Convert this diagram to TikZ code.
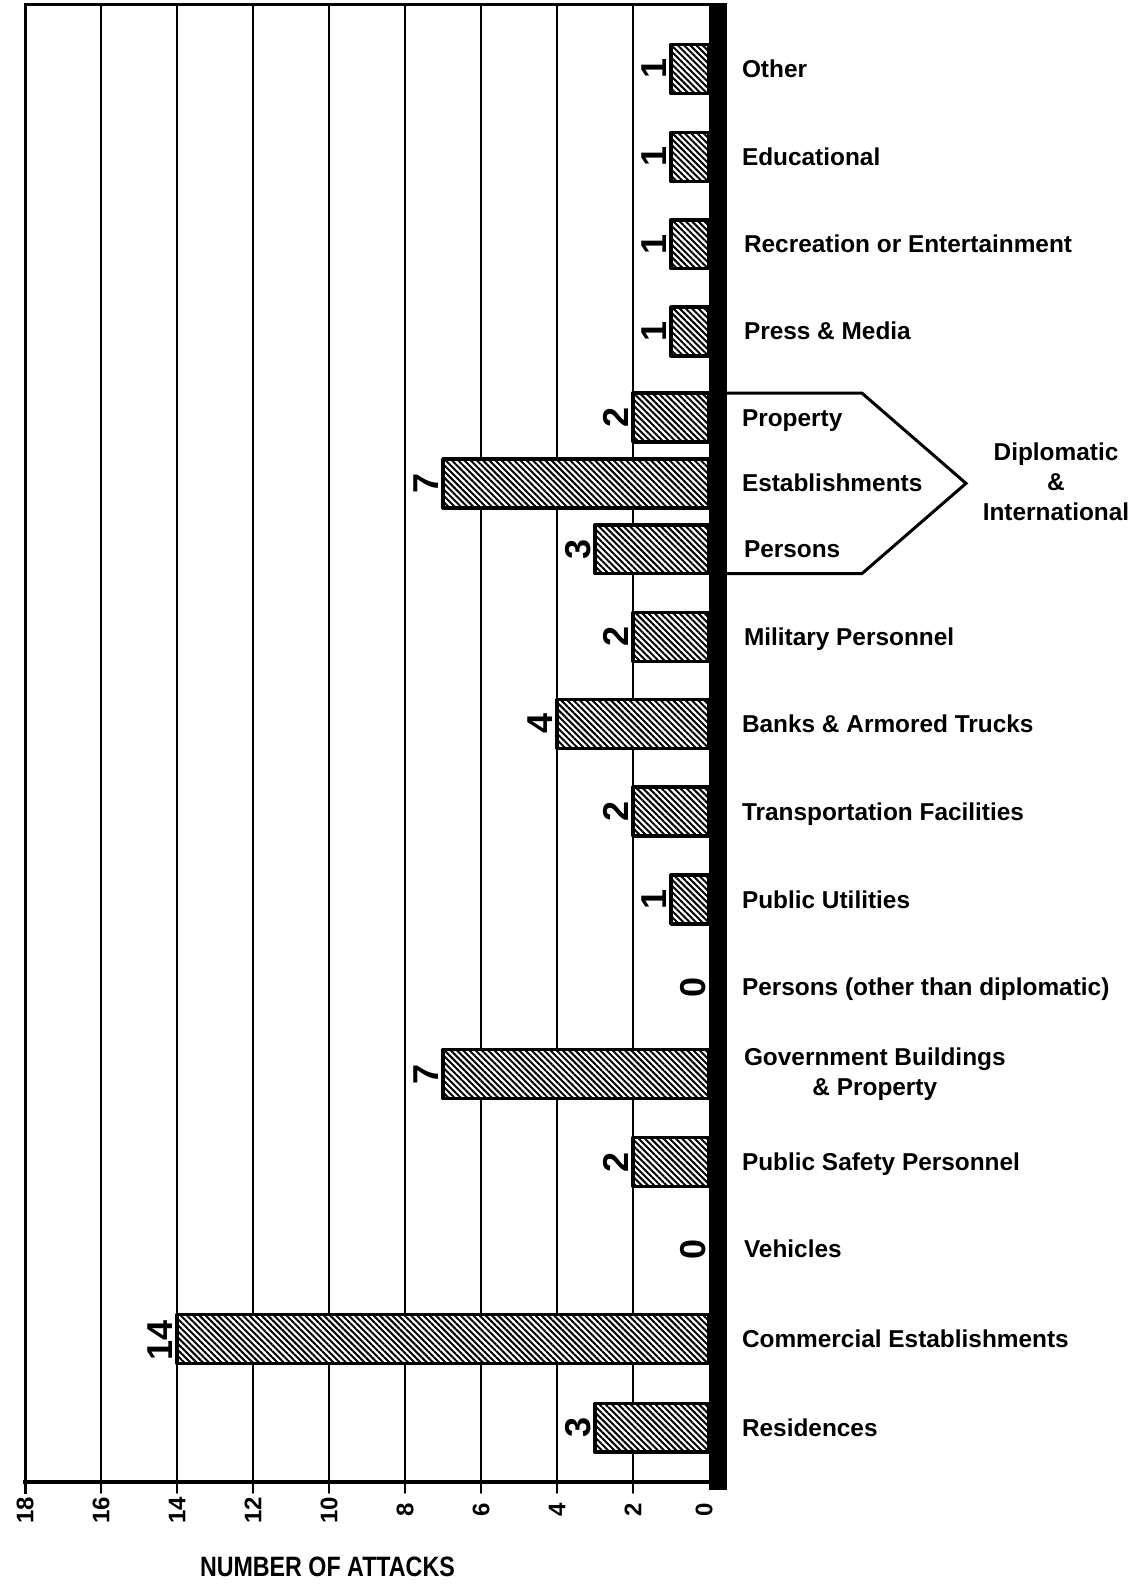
\documentclass[tikz,border=0pt]{standalone}
\usepackage{fontspec}
\setmainfont{Liberation Sans}
\usetikzlibrary{patterns.meta}

\begin{document}
\begin{tikzpicture}[x=1pt,y=1pt,
  gridline/.style={line width= 0.9pt,line join=round,line cap=round},
  hatchbar/.style={line width= 1.8pt,line join=round,fill=white,
    postaction={pattern={Lines[angle=-45,distance=2.2pt,line width=1.0pt]}}},
  catlab/.style={anchor=base west,inner sep=0pt,outer sep=0pt,font=\fontsize{12.2}{15}\selectfont\bfseries},
  vallab/.style={rotate=90,anchor=base,inner sep=0pt,outer sep=0pt,font=\fontsize{18}{20}\selectfont\bfseries},
  ticklab/.style={rotate=90,anchor=center,inner sep=0pt,outer sep=0pt,font=\fontsize{12}{14}\selectfont\bfseries}]
\definecolor{fillColor}{RGB}{255,255,255}
\path[use as bounding box,fill=fillColor] (0,0) rectangle (568.00,794.50);
\begin{scope}
\definecolor{drawColor}{RGB}{0,0,0}

% grid lines, running down past the frame as ticks
\path[draw=drawColor,gridline] ( 50.50,792.00) -- ( 50.50, 48.00);
\path[draw=drawColor,gridline] ( 88.50,792.00) -- ( 88.50, 48.00);
\path[draw=drawColor,gridline] (126.50,792.00) -- (126.50, 48.00);
\path[draw=drawColor,gridline] (164.50,792.00) -- (164.50, 48.00);
\path[draw=drawColor,gridline] (202.50,792.00) -- (202.50, 48.00);
\path[draw=drawColor,gridline] (240.50,792.00) -- (240.50, 48.00);
\path[draw=drawColor,gridline] (278.50,792.00) -- (278.50, 48.00);
\path[draw=drawColor,gridline] (316.50,792.00) -- (316.50, 48.00);

% frame
\path[draw=drawColor,line width= 1.5pt,line cap=rect] ( 12.50, 48.00) -- ( 12.50,792.00) -- (354.50,792.00);
\path[draw=drawColor,line width= 2.2pt,line cap=rect] ( 12.50, 53.50) -- (354.50, 53.50);

% tick labels
\node[ticklab,text=drawColor] (t18) at ( 12.50, 39.50) {18};
\node[ticklab,text=drawColor] (t16) at ( 50.50, 39.50) {16};
\node[ticklab,text=drawColor] (t14) at ( 88.50, 39.50) {14};
\node[ticklab,text=drawColor] (t12) at (126.50, 39.50) {12};
\node[ticklab,text=drawColor] (t10) at (164.50, 39.50) {10};
\node[ticklab,text=drawColor] (t8) at (202.50, 39.50) {8};
\node[ticklab,text=drawColor] (t6) at (240.50, 39.50) {6};
\node[ticklab,text=drawColor] (t4) at (278.50, 39.50) {4};
\node[ticklab,text=drawColor] (t2) at (316.50, 39.50) {2};
\node[ticklab,text=drawColor] (t0) at (352.00, 39.50) {0};

\node[text=drawColor,inner sep=0pt,xscale=0.83,font=\fontsize{14}{16}\selectfont\bfseries] (xtitle) at (163.70, 11.00) {NUMBER OF ATTACKS};
\end{scope}
\begin{scope}
\definecolor{drawColor}{RGB}{0,0,0}

% bars
\path[draw=drawColor,hatchbar] (335.50,747.80) rectangle (354.50,772.20);
\path[draw=drawColor,hatchbar] (335.50,703.80) rectangle (354.50,728.20);
\path[draw=drawColor,hatchbar] (335.50,660.20) rectangle (354.50,684.60);
\path[draw=drawColor,hatchbar] (335.50,616.60) rectangle (354.50,641.00);
\path[draw=drawColor,hatchbar] (316.50,573.50) rectangle (354.50,597.90);
\path[draw=drawColor,hatchbar] (221.50,540.60) rectangle (354.50,565.00);
\path[draw=drawColor,hatchbar] (297.50,507.70) rectangle (354.50,532.10);
\path[draw=drawColor,hatchbar] (316.50,463.80) rectangle (354.50,488.20);
\path[draw=drawColor,hatchbar] (278.50,420.30) rectangle (354.50,444.70);
\path[draw=drawColor,hatchbar] (316.50,376.50) rectangle (354.50,400.90);
\path[draw=drawColor,hatchbar] (335.50,332.50) rectangle (354.50,356.90);
\path[draw=drawColor,hatchbar] (221.50,245.30) rectangle (354.50,269.70);
\path[draw=drawColor,hatchbar] (316.50,201.30) rectangle (354.50,225.70);
\path[draw=drawColor,hatchbar] ( 88.50,112.80) rectangle (354.50,137.20);
\path[draw=drawColor,hatchbar] (297.50, 68.40) rectangle (354.50, 92.80);

% value axis
\path[fill=drawColor] (354.50, 49.50) rectangle (363.50,793.00);

% counts
\node[vallab,text=drawColor] (v-other) at (333.00,760.00) {1};
\node[vallab,text=drawColor] (v-educ) at (333.00,716.00) {1};
\node[vallab,text=drawColor] (v-recr) at (333.00,672.40) {1};
\node[vallab,text=drawColor] (v-press) at (333.00,628.80) {1};
\node[vallab,text=drawColor] (v-dprop) at (314.00,585.70) {2};
\node[vallab,text=drawColor] (v-destab) at (219.00,552.80) {7};
\node[vallab,text=drawColor] (v-dpers) at (295.00,519.90) {3};
\node[vallab,text=drawColor] (v-milit) at (314.00,476.00) {2};
\node[vallab,text=drawColor] (v-banks) at (276.00,432.50) {4};
\node[vallab,text=drawColor] (v-transp) at (314.00,388.70) {2};
\node[vallab,text=drawColor] (v-util) at (333.00,344.70) {1};
\node[vallab,text=drawColor] (v-pers) at (352.50,301.00) {0};
\node[vallab,text=drawColor] (v-govt) at (219.00,257.50) {7};
\node[vallab,text=drawColor] (v-safety) at (314.00,213.50) {2};
\node[vallab,text=drawColor] (v-vehic) at (352.50,169.80) {0};
\node[vallab,text=drawColor] (v-comm) at ( 86.00,124.50) {14};
\node[vallab,text=drawColor] (v-resid) at (295.00, 80.60) {3};

% categories
\node[catlab,text=drawColor] (c-other) at (371.00,755.70) {Other};
\node[catlab,text=drawColor] (c-educ) at (371.00,711.70) {Educational};
\node[catlab,text=drawColor] (c-recr) at (372.00,668.10) {Recreation or Entertainment};
\node[catlab,text=drawColor] (c-press) at (372.00,624.50) {Press \& Media};
\node[catlab,text=drawColor] (c-dprop) at (371.00,581.40) {Property};
\node[catlab,text=drawColor] (c-destab) at (371.00,548.50) {Establishments};
\node[catlab,text=drawColor] (c-dpers) at (372.00,515.60) {Persons};
\node[catlab,text=drawColor] (c-milit) at (372.00,471.70) {Military Personnel};
\node[catlab,text=drawColor] (c-banks) at (371.00,428.20) {Banks \& Armored Trucks};
\node[catlab,text=drawColor] (c-transp) at (371.00,384.40) {Transportation Facilities};
\node[catlab,text=drawColor] (c-util) at (371.00,340.40) {Public Utilities};
\node[catlab,text=drawColor] (c-pers) at (371.00,296.70) {Persons (other than diplomatic)};
\node[catlab,text=drawColor,anchor=west,align=center] (c-govt) at (372.00,257.50) {Government Buildings\\\& Property};
\node[catlab,text=drawColor] (c-safety) at (371.00,209.20) {Public Safety Personnel};
\node[catlab,text=drawColor] (c-vehic) at (372.00,165.50) {Vehicles};
\node[catlab,text=drawColor] (c-comm) at (371.00,120.70) {Commercial Establishments};
\node[catlab,text=drawColor] (c-resid) at (371.00, 76.30) {Residences};

% diplomatic group
\path[draw=drawColor,line width= 1.5pt,line join=miter] (363.50,597.90) -- (431.00,597.90) -- (483.00,552.80) -- (431.00,507.70) -- (363.50,507.70);
\node[catlab,text=drawColor,anchor=center,align=center] (c-dipl) at (528.00,553.50) {Diplomatic\\\&\\International};
\end{scope}
\end{tikzpicture}
\end{document}
